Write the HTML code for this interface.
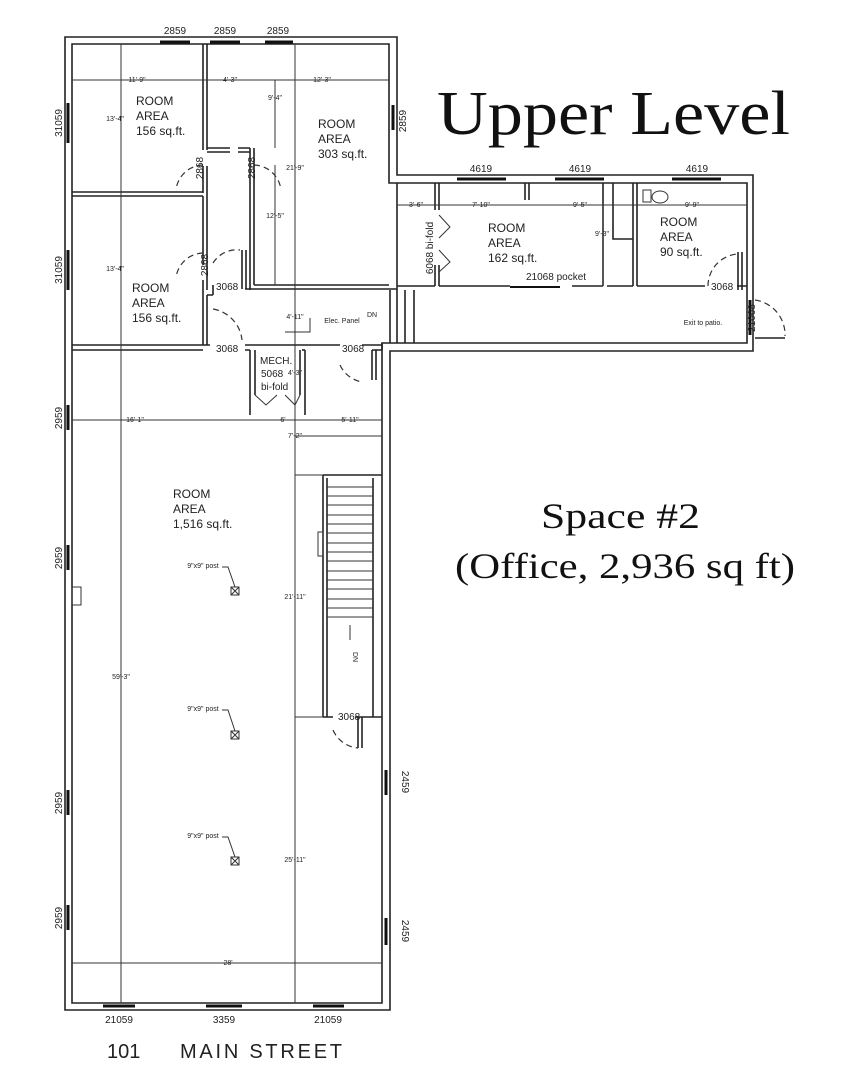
<!DOCTYPE html>
<html><head><meta charset="utf-8"><style>
html,body{margin:0;padding:0;background:#fff}
svg{display:block}
.w{stroke:#222;stroke-width:1.6;fill:none}
.d{stroke:#333;stroke-width:1;fill:none}
.dash{stroke:#333;stroke-width:1.2;fill:none;stroke-dasharray:6 4}
.win{stroke:#111;stroke-width:3;fill:none}
text{font-family:"Liberation Sans",sans-serif;fill:#222}
.s{font-size:7px}
.m{font-size:10px}
.r{font-size:12px}
.serif{font-family:"Liberation Serif",serif;fill:#111}
</style></head><body>
<svg width="844" height="1067" viewBox="0 0 844 1067" xmlns="http://www.w3.org/2000/svg">
<path class="w" d="M65,37 H397 V175 H753 V351 H390 V1010 H65 Z"/>
<path class="w" d="M72,44 H389 V183 H747 V343 H382 V1003 H72 Z"/>
<path class="w" d="M397,183 V290 M390,290 V343 M397,290 V343 M414,290 V343 M405,290 V343"/>
<path class="w" d="M203,44 V150 M207,44 V150 M203,166 V193 M207,166 V285 M72,192 H203 M72,196 H203 M203,196 V265 M203,280 V290 M207,280 V290"/>
<path class="w" d="M72,345 H210 M72,350 H203 M203,290 V345 M207,295 V345"/>
<path class="w" d="M207,148 H230 M238,148 H250 M207,152 H230 M238,152 H250 M250,148 V290 M254,148 V285 M254,285 H389 M245,289 H397"/>
<path class="w" d="M242,250 V289 M246,250 V289"/>
<path class="w" d="M213,285 V295 M213,295 H207"/>
<path class="w" d="M245,345 H290 M245,350 H250 M250,350 V415 M255,350 V395 M300,350 V395 M305,350 V415 M290,345 H340 M362,345 H382 M372,350 H382 M372,350 V380 M376,350 V380 M382,350 V343"/>
<path class="d" d="M255,395 L266,405 L277,395 M285,395 L295,405 L300,395"/>
<path class="w" d="M302,350 H305"/>
<path class="w" d="M435,183 V210 M439,183 V210 M435,265 V286 M439,265 V286 M397,286 H435 M439,286 H510 M572,286 H603 M603,183 V286 M607,286 H633 M633,183 V286 M637,183 V286 M637,286 H705 M737,286 H747 M613,183 V239 H633 M525,183 V200 M529,183 V200"/>
<path class="win" d="M510,287 H560" style="stroke-width:2"/>
<path class="w" d="M738,252 V290 M742,252 V290"/>
<path class="d" d="M439,215 L450,227 L439,238 M439,250 L450,262 L439,272"/>
<rect x="643" y="190" width="8" height="12" class="d"/>
<ellipse cx="660" cy="197" rx="8" ry="6" class="d"/>
<path class="w" d="M323,475 H382 M323,475 V717 M327,478 V717 M373,478 V717 M323,717 H333 M355,717 H382 M358,717 V748 M362,717 V748"/>
<rect x="318" y="532" width="5" height="24" class="d"/>
<g class="d">
<path d="M327,487 H373 M327,496 H373 M327,505 H373 M327,515 H373 M327,524 H373 M327,533 H373 M327,543 H373 M327,552 H373 M327,561 H373 M327,571 H373 M327,580 H373 M327,589 H373 M327,599 H373 M327,608 H373 M327,617 H373"/>
<path d="M350,625 V640"/>
</g>
<text class="s" transform="translate(353,652) rotate(90)">DN</text>
<path class="dash" d="M203,165 A28,28 0 0,0 176,190"/>
<path class="dash" d="M254,165 A28,28 0 0,1 281,190"/>
<path class="dash" d="M203,253 A28,28 0 0,0 176,278"/>
<path class="dash" d="M213,263 A28,28 0 0,1 240,250"/>
<path class="dash" d="M213,309 A35,35 0 0,1 242,340"/>
<path class="dash" d="M340,365 A30,30 0 0,0 362,382"/>
<path class="dash" d="M333,730 A30,30 0 0,0 358,748"/>
<path class="dash" d="M708,286 A32,32 0 0,1 738,254"/>
<path class="dash" d="M755,300 A35,35 0 0,1 785,336"/>
<path class="w" d="M755,338 H785"/>
<g class="d">
<path d="M121,44 V1003 M295,44 V1003 M275,80 V148 M275,165 V285"/>
<path d="M72,80 H389 M72,420 H382 M72,963 H382 M397,205 H747 M295,436 H382 M295,475 H323 M295,717 H323 M603,205 V286"/>
<path d="M285,332 H310 V318"/>
</g>
<g class="win">
<path d="M160,42 H190 M210,42 H240 M265,42 H293"/>
<path d="M68,103 V143 M68,250 V290 M68,405 V430 M68,545 V570 M68,790 V815 M68,905 V930"/>
<path d="M386,770 V795 M386,918 V945 M393,105 V130"/>
<path d="M457,179 H506 M555,179 H604 M672,179 H721 M750,300 V335"/>
<path d="M103,1006 H135 M206,1006 H242 M313,1006 H344"/>
</g>
<rect x="72" y="587" width="9" height="18" class="d"/>
<g class="d"><rect x="231" y="587" width="8" height="8"/><path d="M231,587 L239,595 M239,587 L231,595 M222,567 H228 L235,587"/>
<rect x="231" y="731" width="8" height="8"/><path d="M231,731 L239,739 M239,731 L231,739 M222,710 H228 L235,731"/>
<rect x="231" y="857" width="8" height="8"/><path d="M231,857 L239,865 M239,857 L231,865 M222,837 H228 L235,857"/></g>
<g class="m" text-anchor="middle">
<text x="175" y="34">2859</text><text x="225" y="34">2859</text><text x="278" y="34">2859</text>
<text x="481" y="172">4619</text><text x="580" y="172">4619</text><text x="697" y="172">4619</text>
<text x="119" y="1023">21059</text><text x="224" y="1023">3359</text><text x="328" y="1023">21059</text>
</g>
<g class="m">
<text transform="translate(62,123) rotate(-90)" text-anchor="middle">31059</text>
<text transform="translate(62,270) rotate(-90)" text-anchor="middle">31059</text>
<text transform="translate(62,418) rotate(-90)" text-anchor="middle">2959</text>
<text transform="translate(62,558) rotate(-90)" text-anchor="middle">2959</text>
<text transform="translate(62,803) rotate(-90)" text-anchor="middle">2959</text>
<text transform="translate(62,918) rotate(-90)" text-anchor="middle">2959</text>
<text transform="translate(406,121) rotate(-90)" text-anchor="middle">2859</text>
<text transform="translate(402,782) rotate(90)" text-anchor="middle">2459</text>
<text transform="translate(402,931) rotate(90)" text-anchor="middle">2459</text>
<text transform="translate(203,168) rotate(-90)" text-anchor="middle">2868</text>
<text transform="translate(255,168) rotate(-90)" text-anchor="middle">2868</text>
<text transform="translate(208,265) rotate(-90)" text-anchor="middle">2868</text>
<text transform="translate(433,248) rotate(-90)" text-anchor="middle">6068 bi-fold</text>
<text transform="translate(755,318) rotate(-90)" text-anchor="middle">21068</text>
<text x="216" y="290">3068</text><text x="216" y="352">3068</text><text x="342" y="352">3068</text>
<text x="338" y="720">3068</text><text x="711" y="290">3068</text>
<text x="526" y="280">21068 pocket</text>
</g>
<g class="r">
<text x="136" y="105">ROOM</text><text x="136" y="120">AREA</text><text x="136" y="135">156 sq.ft.</text>
<text x="318" y="128">ROOM</text><text x="318" y="143">AREA</text><text x="318" y="158">303 sq.ft.</text>
<text x="132" y="292">ROOM</text><text x="132" y="307">AREA</text><text x="132" y="322">156 sq.ft.</text>
<text x="488" y="232">ROOM</text><text x="488" y="247">AREA</text><text x="488" y="262">162 sq.ft.</text>
<text x="660" y="226">ROOM</text><text x="660" y="241">AREA</text><text x="660" y="256">90 sq.ft.</text>
<text x="173" y="498">ROOM</text><text x="173" y="513">AREA</text><text x="173" y="528">1,516 sq.ft.</text>
<text x="260" y="364" class="m">MECH.</text><text x="261" y="377" class="m">5068</text><text x="261" y="390" class="m">bi-fold</text>
</g>
<g class="s" text-anchor="middle">
<text x="137" y="82">11'-9"</text><text x="230" y="82">4'-3"</text><text x="322" y="82">12'-3"</text>
<text x="275" y="100">9'-4"</text><text x="295" y="170">21'-9"</text><text x="275" y="218">12'-5"</text>
<text x="115" y="121">13'-4"</text><text x="115" y="271">13'-4"</text>
<text x="295" y="319">4'-11"</text><text x="295" y="375">4'-3"</text>
<text x="135" y="422">16'-1"</text><text x="283" y="422">6'</text><text x="350" y="422">5'-11"</text>
<text x="295" y="438">7'-2"</text><text x="295" y="599">21'-11"</text><text x="295" y="862">25'-11"</text>
<text x="121" y="679">59'-3"</text><text x="228" y="965">28'</text>
<text x="416" y="207">3'-6"</text><text x="481" y="207">7'-10"</text><text x="580" y="207">9'-5"</text><text x="692" y="207">9'-9"</text>
<text x="602" y="236">9'-3"</text>
<text x="203" y="568">9"x9" post</text><text x="203" y="711">9"x9" post</text><text x="203" y="838">9"x9" post</text>
<text x="342" y="323">Elec. Panel</text><text x="372" y="317">DN</text>
<text x="703" y="325">Exit to patio.</text>
</g>
<text class="serif" x="437" y="134" font-size="62" textLength="353" lengthAdjust="spacingAndGlyphs">Upper Level</text>
<text class="serif" x="541" y="528" font-size="36" textLength="159" lengthAdjust="spacingAndGlyphs">Space #2</text>
<text class="serif" x="455" y="578" font-size="36" textLength="340" lengthAdjust="spacingAndGlyphs">(Office, 2,936 sq ft)</text>
<text x="107" y="1058" font-size="20" fill="#222">101</text>
<text x="180" y="1058" font-size="20" fill="#222" textLength="162" lengthAdjust="spacing">MAIN STREET</text>
</svg>
</body></html>
